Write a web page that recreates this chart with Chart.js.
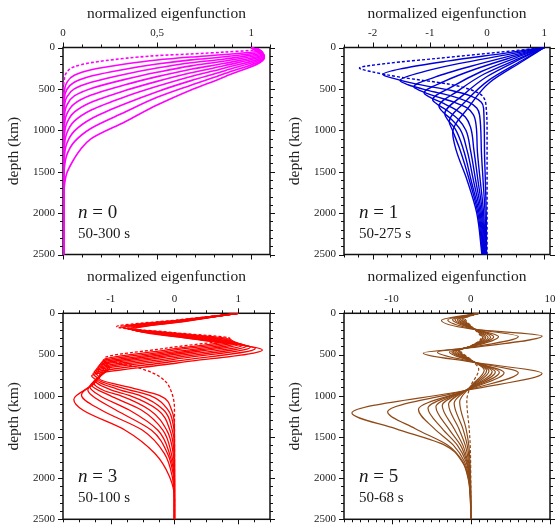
<!DOCTYPE html>
<html>
<head>
<meta charset="utf-8">
<script src="https://cdn.jsdelivr.net/npm/chart.js@4.4.0/dist/chart.umd.min.js"></script>
<style>
  html, body { margin: 0; padding: 0; background: #fff; }
  body { width: 556px; height: 525px; position: relative; overflow: hidden; }
  canvas { position: absolute; }
</style>
</head>
<body>
<canvas id="p0"></canvas>
<canvas id="p1"></canvas>
<canvas id="p3"></canvas>
<canvas id="p5"></canvas>
<script>
const FONT = "'Liberation Serif', 'DejaVu Serif', serif";

const xTitle = "normalized eigenfunction";
const yTitle = "depth (km)";
const depthRange = [0, 2500];
const depthMajor = 500;
const depthMinor = 100;

const modeNumbers = [0, 1, 3, 5];
const periodRanges = ["50-300 s", "50-275 s", "50-100 s", "50-68 s"];

// each curve: [eigenfunction value, depth km]; first curve = 50 s (dashed)
const n0Curves = [
  [[1.0,0],[1.045,22],[0.86,55],[0.68,78],[0.5,98],[0.33,131],[0.15,183],[0.06,232],[0.02,300],[0.006,400],[0.003,520],[0.003,2500]],
  [[1.0,0],[1.05,35],[0.86,85],[0.68,115],[0.5,151],[0.33,200],[0.15,268],[0.06,335],[0.02,425],[0.006,540],[0.003,680],[0.003,2500]],
  [[1.0,0],[1.055,45],[0.86,112],[0.68,150],[0.5,200],[0.33,262],[0.15,345],[0.06,420],[0.02,510],[0.006,640],[0.003,800],[0.003,2500]],
  [[1.0,0],[1.06,55],[0.86,138],[0.68,185],[0.5,248],[0.33,322],[0.15,420],[0.06,500],[0.02,600],[0.006,740],[0.003,920],[0.003,2500]],
  [[1.0,0],[1.06,65],[0.86,163],[0.68,222],[0.5,300],[0.33,385],[0.15,495],[0.06,585],[0.02,700],[0.006,850],[0.003,1040],[0.003,2500]],
  [[1.0,0],[1.065,75],[0.86,190],[0.68,262],[0.5,352],[0.33,450],[0.15,575],[0.06,680],[0.02,805],[0.006,970],[0.003,1170],[0.003,2500]],
  [[1.0,0],[1.065,85],[0.86,218],[0.68,305],[0.5,409],[0.33,520],[0.15,660],[0.06,780],[0.02,915],[0.006,1090],[0.003,1300],[0.003,2500]],
  [[1.0,0],[1.07,95],[0.86,248],[0.68,350],[0.5,469],[0.33,595],[0.15,755],[0.06,890],[0.02,1035],[0.006,1220],[0.003,1440],[0.003,2500]],
  [[1.0,0],[1.07,105],[0.86,280],[0.68,400],[0.5,533],[0.33,680],[0.15,860],[0.06,1010],[0.02,1160],[0.006,1350],[0.003,1580],[0.003,2500]],
  [[1.0,0],[1.07,115],[0.86,315],[0.68,455],[0.5,602],[0.33,780],[0.15,975],[0.06,1140],[0.02,1300],[0.006,1490],[0.003,1720],[0.003,2500]],
  [[1.0,0],[1.07,125],[0.86,352],[0.68,513],[0.5,695],[0.33,896],[0.15,1100],[0.09,1240],[0.05,1380],[0.02,1520],[0.006,1700],[0.003,1900],[0.003,2500]]
];

const n1Curves = [
  [[1,0],[0.31,50],[-0.86,131],[-1.73,191],[-2.23,248],[-2.02,292],[-1.5,360],[-0.68,441],[-0.27,513],[-0.07,594],[-0.012,755],[0,1000],[0,2500]],
  [[1,0],[0.35,65],[-0.7,165],[-1.45,250],[-1.82,325],[-1.65,370],[-1.25,440],[-0.62,520],[-0.27,590],[-0.1,660],[-0.06,740],[-0.045,1240],[-0.03,1600],[-0.015,2000],[-0.01,2500]],
  [[1,0],[0.4,80],[-0.5,195],[-1.15,300],[-1.52,400],[-1.38,450],[-1.05,515],[-0.6,590],[-0.32,660],[-0.18,730],[-0.13,820],[-0.1,1240],[-0.07,1600],[-0.035,2000],[-0.02,2500]],
  [[1,0],[0.45,95],[-0.3,230],[-0.9,355],[-1.28,475],[-1.17,520],[-0.9,590],[-0.58,660],[-0.35,730],[-0.24,810],[-0.19,950],[-0.17,1240],[-0.12,1600],[-0.06,2000],[-0.03,2500]],
  [[1,0],[0.5,105],[-0.2,260],[-0.75,410],[-1.1,550],[-1.0,600],[-0.78,670],[-0.55,750],[-0.38,840],[-0.29,960],[-0.23,1240],[-0.16,1600],[-0.08,2000],[-0.04,2500]],
  [[1,0],[0.5,125],[-0.1,290],[-0.6,470],[-0.95,630],[-0.86,690],[-0.68,770],[-0.5,870],[-0.37,1000],[-0.29,1240],[-0.2,1600],[-0.1,2000],[-0.05,2500]],
  [[1,0],[0.55,135],[-0.05,320],[-0.5,520],[-0.84,710],[-0.77,780],[-0.62,870],[-0.47,990],[-0.35,1240],[-0.24,1600],[-0.12,2000],[-0.06,2500]],
  [[1,0],[0.55,150],[0,350],[-0.42,575],[-0.74,800],[-0.68,880],[-0.56,980],[-0.41,1240],[-0.28,1600],[-0.14,2000],[-0.07,2500]],
  [[1,0],[0.6,160],[0.05,385],[-0.36,640],[-0.66,900],[-0.61,990],[-0.47,1240],[-0.31,1600],[-0.16,2000],[-0.08,2500]],
  [[1,0],[0.6,175],[0.05,420],[-0.32,720],[-0.6,1030],[-0.54,1240],[-0.35,1600],[-0.18,2000],[-0.09,2500]]
];

const n3Curves = [
  [[1,0],[0.05,80],[-0.91,162],[0,235],[0.87,305],[-0.1,420],[-1.1,545],[-0.7,630],[-0.35,720],[-0.15,820],[-0.05,950],[0,1150],[0,2500]],
  [[1,0],[0.08,82],[-0.85,165],[0.02,242],[0.89,318],[-0.12,444],[-1.12,570],[-1.02,660],[-1.18,790],[-0.7,900],[-0.23,1000],[-0.045,1174],[0,1400],[0,2500]],
  [[1,0],[0.09,84],[-0.82,168],[0.05,250],[0.91,332],[-0.12,461],[-1.14,590],[-1.05,670],[-1.2,800],[-0.8,910],[-0.38,1000],[-0.1,1174],[-0.02,1350],[0,1500],[0,2500]],
  [[1,0],[0.1,86],[-0.8,171],[0.07,258],[0.94,345],[-0.11,478],[-1.16,610],[-1.08,685],[-1.22,810],[-0.9,920],[-0.54,1000],[-0.17,1174],[-0.04,1400],[0,1600],[0,2500]],
  [[1,0],[0.11,87],[-0.78,174],[0.1,266],[0.98,358],[-0.1,494],[-1.18,630],[-1.1,700],[-1.24,820],[-1.0,930],[-0.7,1000],[-0.26,1174],[-0.07,1420],[-0.01,1650],[0,1800],[0,2500]],
  [[1,0],[0.13,89],[-0.75,177],[0.13,274],[1.02,371],[-0.09,510],[-1.2,650],[-1.13,715],[-1.27,840],[-1.1,940],[-0.85,1000],[-0.39,1174],[-0.12,1420],[-0.03,1650],[0,1900],[0,2500]],
  [[1,0],[0.14,90],[-0.73,180],[0.17,282],[1.07,385],[-0.08,527],[-1.22,670],[-1.15,730],[-1.3,870],[-1.01,1000],[-0.52,1174],[-0.18,1420],[-0.05,1700],[0,2000],[0,2500]],
  [[1,0],[0.15,92],[-0.7,183],[0.21,290],[1.13,398],[-0.05,544],[-1.24,690],[-1.17,745],[-1.33,890],[-1.17,1000],[-0.71,1174],[-0.26,1420],[-0.08,1700],[0,2050],[0,2500]],
  [[1,0],[0.16,93],[-0.68,186],[0.25,299],[1.19,412],[-0.03,561],[-1.26,710],[-1.19,770],[-1.36,930],[-1.29,1000],[-0.92,1174],[-0.36,1420],[-0.11,1700],[-0.02,1950],[0,2150],[0,2500]],
  [[1,0],[0.17,95],[-0.66,190],[0.3,309],[1.27,428],[0,582],[-1.28,735],[-1.21,790],[-1.46,990],[-1.15,1174],[-0.5,1420],[-0.16,1700],[-0.03,2000],[0,2250],[0,2500]],
  [[1,0],[0.18,97],[-0.63,194],[0.37,320],[1.38,445],[0.04,603],[-1.3,760],[-1.23,815],[-1.58,1045],[-1.44,1174],[-0.78,1416],[-0.31,1699],[-0.077,1983],[0,2250],[0,2500]]
];

const n5Curves = [
  [[1,0],[-0.7,64],[0,150],[1.3,300],[0,395],[-1.3,450],[0,560],[1.0,680],[0,880],[-0.5,1060],[-0.2,1400],[-0.07,1600],[-0.02,1800],[0,2000],[0,2500]],
  [[1,0],[-0.9,66],[0,155],[1.5,300],[0,397],[-1.45,452],[0,563],[1.7,690],[0,885],[-1.4,1075],[-0.6,1400],[-0.25,1600],[-0.1,1800],[-0.03,2000],[0,2200],[0,2500]],
  [[1,0],[-1.1,68],[0,160],[1.7,298],[0,399],[-1.6,455],[0,566],[2.0,695],[0,890],[-2.1,1090],[-1.0,1400],[-0.45,1600],[-0.18,1800],[-0.05,2000],[-0.01,2200],[0,2500]],
  [[1,0],[-1.3,70],[0,165],[1.9,296],[0,401],[-1.8,458],[0,569],[2.3,700],[0,895],[-2.8,1105],[-1.5,1400],[-0.7,1600],[-0.28,1800],[-0.08,2000],[-0.02,2200],[0,2500]],
  [[1,0],[-1.5,72],[0,170],[2.2,294],[0,403],[-2.0,461],[0,572],[2.7,705],[0,900],[-3.6,1120],[-2.1,1400],[-1.0,1600],[-0.4,1800],[-0.12,2000],[-0.03,2200],[0,2500]],
  [[1,0],[-1.7,74],[0,173],[2.5,290],[0,405],[-2.2,464],[0,575],[3.1,710],[0,905],[-4.4,1135],[-2.8,1400],[-1.3,1600],[-0.5,1800],[-0.15,2000],[-0.04,2200],[0,2500]],
  [[1,0],[-2.0,76],[0,176],[2.9,286],[0,407],[-2.4,467],[0,578],[3.6,715],[0,910],[-5.4,1150],[-3.6,1400],[-1.7,1600],[-0.6,1800],[-0.2,2000],[-0.05,2200],[0,2500]],
  [[1,0],[-2.3,78],[0,180],[3.5,283],[0,410],[-2.7,470],[0,581],[4.2,720],[0,915],[-6.6,1165],[-4.6,1400],[-2.2,1600],[-0.8,1800],[-0.25,2000],[-0.06,2200],[0,2500]],
  [[1,0],[-2.9,80],[0,184],[6.0,282],[0,413],[-4.2,472],[0,585],[6.0,722],[0,920],[-10.5,1195],[-7.0,1400],[-2.9,1600],[-1.0,1800],[-0.3,2000],[-0.07,2200],[0,2500]],
  [[1,0],[-3.7,85],[0,190],[9.0,277],[0,418],[-6.0,482],[0,590],[9.0,730],[0,925],[-15.0,1210],[-9.5,1400],[-3.3,1600],[-1.1,1800],[-0.35,2000],[-0.08,2200],[0,2500]]
];

// x axis: [min, max, major step, minor step]
const xAxes = [
  [0, 1.1, 0.5, 0.1],
  [-2.5, 1.1, 1, 0.25],
  [-1.75, 1.5, 1, 0.25],
  [-16, 10, 10, 1]
];

const colors = ["#ff00ff", "#0000dc", "#ff0000", "#8f4a17"];
const lineWidths = [1.6, 1.4, 1.3, 1.2];

// frame + outward ticks on all four sides, and the panel labels
const framePlugin = {
  id: "frame",
  beforeDatasetsDraw(chart, args, opts) {
    const { ctx, chartArea: a, scales: { x, y } } = chart;
    ctx.save();
    ctx.strokeStyle = "#111";
    ctx.lineWidth = 1;
    ctx.beginPath();
    const i0 = Math.ceil(x.min / opts.xMinor - 1e-6);
    const i1 = Math.floor(x.max / opts.xMinor + 1e-6);
    for (let i = i0; i <= i1; i++) {
      const v = i * opts.xMinor;
      const r = v / opts.xMajor;
      const len = Math.abs(r - Math.round(r)) < 1e-6 ? 5 : 3;
      const px = Math.round(x.getPixelForValue(v)) + 0.5;
      ctx.moveTo(px, a.top); ctx.lineTo(px, a.top - len);
      ctx.moveTo(px, a.bottom); ctx.lineTo(px, a.bottom + len);
    }
    for (let d = depthRange[0]; d <= depthRange[1]; d += depthMinor) {
      const len = d % depthMajor === 0 ? 5 : 3;
      const py = Math.round(y.getPixelForValue(d)) + 0.5;
      ctx.moveTo(a.left, py); ctx.lineTo(a.left - len, py);
      ctx.moveTo(a.right, py); ctx.lineTo(a.right + len, py);
    }
    ctx.stroke();
    ctx.lineWidth = 1.5;
    ctx.strokeRect(a.left, a.top, a.right - a.left, a.bottom - a.top);
    ctx.restore();
  },
  afterDraw(chart, args, opts) {
    const { ctx, chartArea: a } = chart;
    ctx.save();
    ctx.fillStyle = "#1a1a1a";
    ctx.textBaseline = "alphabetic";
    let tx = a.left + 15;
    ctx.font = "italic 19px " + FONT;
    ctx.fillText("n", tx, a.bottom - 37);
    tx += ctx.measureText("n").width;
    ctx.font = "19px " + FONT;
    ctx.fillText(" = " + opts.n, tx, a.bottom - 37);
    ctx.font = "15px " + FONT;
    ctx.fillText(opts.period, a.left + 15, a.bottom - 17);
    ctx.restore();
  }
};

const panels = [
  { id: "p0", curves: n0Curves, left: 0,   top: 0,   w: 278, h: 262, axisH: 47.5, padR: 8, padB: 7.5, titlePad: 4.5, comma: true },
  { id: "p1", curves: n1Curves, left: 281, top: 0,   w: 275, h: 262, axisH: 47.5, padR: 6, padB: 7.5, titlePad: 4.5 },
  { id: "p3", curves: n3Curves, left: 0,   top: 266, w: 278, h: 259, axisH: 47.3, padR: 8, padB: 5.7, titlePad: 2 },
  { id: "p5", curves: n5Curves, left: 281, top: 266, w: 275, h: 259, axisH: 47.3, padR: 6, padB: 5.7, titlePad: 2 }
];

panels.forEach((p, k) => {
  const canvas = document.getElementById(p.id);
  canvas.width = p.w;
  canvas.height = p.h;
  canvas.style.left = p.left + "px";
  canvas.style.top = p.top + "px";
  const [xMin, xMax, xMajor, xMinor] = xAxes[k];

  const datasets = p.curves.map((pts, i) => ({
    data: pts.map(q => ({ x: q[0], y: q[1] })),
    borderColor: colors[k],
    borderWidth: lineWidths[k],
    borderDash: i === 0 ? [3, 2] : [],
    pointRadius: 0,
    fill: false,
    cubicInterpolationMode: "monotone"
  }));

  new Chart(canvas, {
    type: "line",
    data: { datasets },
    options: {
      responsive: false,
      animation: false,
      indexAxis: "y",
      layout: { padding: { left: 0, top: 0, right: p.padR, bottom: p.padB } },
      plugins: {
        legend: { display: false },
        tooltip: { enabled: false },
        frame: { xMajor, xMinor, n: modeNumbers[k], period: periodRanges[k] }
      },
      scales: {
        x: {
          type: "linear",
          position: "top",
          min: xMin,
          max: xMax,
          grid: { display: false, drawTicks: false },
          border: { display: false },
          ticks: {
            stepSize: xMajor,
            includeBounds: false,
            padding: 8,
            color: "#222",
            font: { family: FONT, size: 11 },
            callback: v => p.comma ? String(v).replace(".", ",") : String(v)
          },
          title: {
            display: true,
            text: xTitle,
            color: "#222",
            font: { family: FONT, size: 15.5 },
            padding: { top: p.titlePad, bottom: 0 }
          },
          afterFit: s => { s.height = p.axisH; s.paddingLeft = 0; s.paddingRight = 0; }
        },
        y: {
          type: "linear",
          reverse: true,
          min: depthRange[0],
          max: depthRange[1],
          grid: { display: false, drawTicks: false },
          border: { display: false },
          ticks: {
            stepSize: depthMajor,
            padding: 8,
            color: "#222",
            font: { family: FONT, size: 11 },
            callback: v => String(v)
          },
          title: {
            display: true,
            text: yTitle,
            color: "#222",
            font: { family: FONT, size: 15.5 },
            padding: { top: 4.5, bottom: 0 }
          },
          afterFit: s => { s.width = 63; s.paddingTop = 0; s.paddingBottom = 0; }
        }
      }
    },
    plugins: [framePlugin]
  });
});
</script>
</body>
</html>
